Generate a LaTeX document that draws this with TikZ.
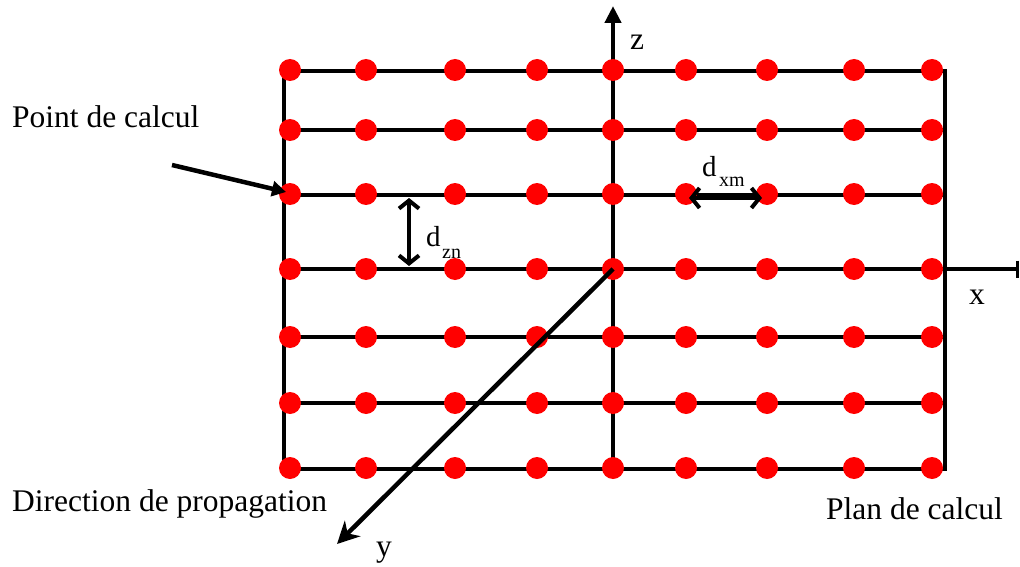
\documentclass[tikz,border=0pt]{standalone}
\usepackage{fontspec}
\setmainfont{Liberation Serif}
\usetikzlibrary{arrows.meta}
\begin{document}
\begin{tikzpicture}[x=1pt,y=-1pt,
  gridline/.style={line width=4.5pt},
  axis/.style={line width=4.5pt},
  dot/.style={circle,fill=red,draw=none,inner sep=0pt,minimum size=22pt},
  lbl/.style={font=\fontsize{31.5}{31.5}\selectfont,inner sep=0pt},
  dlbl/.style={font=\fontsize{29}{29}\selectfont,inner sep=0pt},
  sub/.style={font=\fontsize{20}{20}\selectfont,inner sep=0pt},
  dimarrow/.style={line width=4.5pt,{Straight Barb[length=8pt,width=20pt,line width=4pt]}-{Straight Barb[length=8pt,width=20pt,line width=4pt]}}]
\useasboundingbox (0,0) rectangle (1020,567);
% frame corners and line ends
\foreach \r/\y in {1/71,2/130,3/195,4/269,5/337,6/403,7/469}{
  \coordinate (L\r) at (284,\y);
  \coordinate (R\r) at (945,\y);
}
\draw[gridline,line cap=rect] (L1) -- (L7);
\draw[gridline,line cap=rect] (R1) -- (R7);
\foreach \r in {1,...,7}{ \draw[gridline] (L\r) -- (R\r); }
% axes
\coordinate (O) at (613,269);
\coordinate (zbot) at (613,469);
\coordinate (ztop) at (613,6);
\coordinate (xend) at (1019,269);
\coordinate (yend) at (337,544);
\draw[axis,-{Triangle[length=17pt,width=16pt]}] (zbot) -- (ztop);
\draw[axis,-{Bar[width=17pt,line width=3.5pt]}] (R4) -- (xend);
% dots
\foreach \r/\y in {1/70,2/130,3/194,4/269,5/337,6/403,7/468}{
  \foreach \c/\x in {1/290,2/366,3/455,4/537,5/613,6/686,7/767,8/854,9/932}{
    \node[dot] (p\r-\c) at (\x,\y) {};
  }
}
\draw[axis,-{Stealth[length=22pt,width=22pt,inset=7pt]}] (O) -- (yend);
% labels
\node[lbl,anchor=base west] (tpoint) at (12,128) {Point de calcul};
\node[lbl,anchor=base west] (tdir) at (12,511) {Direction de propagation};
\node[lbl,anchor=base west] (tplan) at (826,519) {Plan de calcul};
\node[lbl,anchor=base] (tz) at (637,50) {z};
\node[lbl,anchor=base] (tx) at (977,304) {x};
\node[lbl,anchor=base] (ty) at (384,556) {y};
% point de calcul arrow
\coordinate (pcstart) at (172,165);
\coordinate (pcend) at (286,192);
\draw[axis,-{Triangle[length=14pt,width=15pt]}] (pcstart) -- (pcend);
% dzn
\coordinate (dzt) at (409,198);
\coordinate (dzb) at (409,266);
\draw[dimarrow] (dzt) -- (dzb);
\node[dlbl,anchor=base west] (dznd) at (426,246) {d};
\node[sub,anchor=base west] (dzns) at (442,258) {zn};
% dxm
\coordinate (dxl) at (689,198);
\coordinate (dxr) at (762,198);
\draw[dimarrow] (dxl) -- (dxr);
\node[dlbl,anchor=base west] (dxmd) at (702,176) {d};
\node[sub,anchor=base west] (dxms) at (719,186) {xm};
\end{tikzpicture}
\end{document}
